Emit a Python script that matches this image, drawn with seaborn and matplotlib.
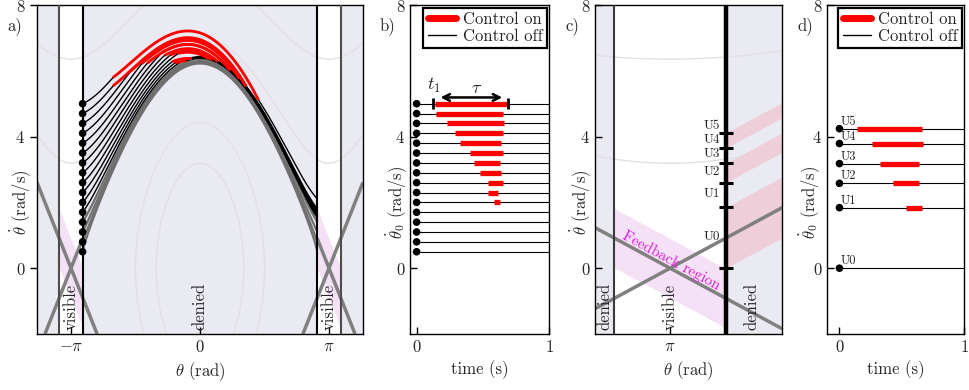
import numpy as np
import pandas as pd
import matplotlib
matplotlib.use("Agg")
import matplotlib.pyplot as plt
from matplotlib.lines import Line2D
import seaborn as sns

# ---------------- values ----------------
# panels a/b: initial angular velocities (rad/s), start angle -2.86 rad
init_speed = [5.0, 4.7, 4.4, 4.1, 3.8, 3.5, 3.2, 2.9, 2.6, 2.3, 2.0, 1.7, 1.4, 1.1, 0.8, 0.5]
# control-on windows (s) for the first eleven rows of panel b
b_on = [0.138, 0.146, 0.231, 0.290, 0.327, 0.403, 0.433, 0.479, 0.537, 0.541, 0.584]
b_off = [0.680, 0.650, 0.660, 0.650, 0.635, 0.650, 0.630, 0.635, 0.650, 0.617, 0.630]
gray_rows = [12, 13, 14, 15]

# panel d
u_names = ["U0", "U1", "U2", "U3", "U4", "U5"]
u_speed = [0.0, 1.84, 2.58, 3.18, 3.79, 4.24]
d_on = [np.nan, 0.536, 0.430, 0.324, 0.258, 0.139]
d_off = [np.nan, 0.661, 0.642, 0.642, 0.669, 0.661]

# panel c
c_bounds = [0.0, 1.85, 2.60, 3.19, 3.65, 4.11]
c_label_y = [0.94, 2.26, 2.92, 3.46, 3.90, 4.33]

# geometry / model constants
vis_half = 0.29          # visible window = pi +- 0.29 rad
start_theta = -2.86
energy_levels = [-4.75, 0.0, 14.9, 30.0]
x_slope = 3.15
band_half = 0.9
g = 9.81
brake = 2.9
a_xlim = (-3.97, 3.97)
c_xlim = (2.75, 3.725)

DENIED = "#EAEAF2"
PINK = "#f5e1f5"
REDBAND = "#eecfd9"
GRAYLINE = "#808080"

sns.set_theme(style="ticks")
plt.rcParams["font.family"] = ["cmr10", "DejaVu Serif"]
plt.rcParams["mathtext.fontset"] = "cm"
plt.rcParams["axes.unicode_minus"] = False
plt.rcParams["axes.formatter.use_mathtext"] = True
plt.rcParams["font.size"] = 12
plt.rcParams["axes.linewidth"] = 1.0
plt.rcParams["axes.edgecolor"] = "black"

fig = plt.figure(figsize=(9.69, 3.90), dpi=100)
W, H = 969.0, 390.0


def axes_px(left, right, top=5, bottom=334):
    return fig.add_axes([left / W, 1 - bottom / H, (right - left) / W, (bottom - top) / H])


axA = axes_px(37, 363)
axB = axes_px(410, 549)
axC = axes_px(595, 782)
axD = axes_px(827, 964)


def simulate(v0, t_on, t_off):
    dt = 2e-4
    th, v, t = start_theta, v0, 0.0
    rows = [(th, v, False)]
    while th < np.pi - vis_half and t < 3.0:
        on = (not np.isnan(t_on)) and (t_on <= t < t_off)
        acc = -g * np.sin(th) - (brake if on else 0.0)
        v += acc * dt
        th += v * dt
        t += dt
        rows.append((th, v, on))
    return pd.DataFrame(rows, columns=["theta", "speed", "on"])


def energy_contours(ax, xlim):
    th = np.linspace(xlim[0], xlim[1], 500)
    vv = np.linspace(-2, 8, 500)
    TH, VV = np.meshgrid(th, vv)
    E = 0.5 * VV ** 2 - g * np.cos(TH)
    ax.contour(TH, VV, E, levels=energy_levels, colors="#e1e1e1", linewidths=1.0,
               negative_linestyles="solid", zorder=1)


def style_axes(ax):
    ax.set_ylim(-2, 8)
    ax.set_yticks([0, 4, 8])
    for s in ax.spines.values():
        s.set_visible(True)
        s.set_color("black")
        s.set_linewidth(1.0)
    ax.tick_params(labelsize=12, length=5, width=1, color="black", direction="in")


# ---------------- panel a ----------------
ax = axA
ax.set_facecolor(DENIED)
ax.set_xlim(*a_xlim)
style_axes(ax)
ax.tick_params(axis="y", direction="out")
for c in (-np.pi, np.pi):
    ax.axvspan(c - vis_half, c + vis_half, color="white", zorder=0.5, lw=0)
energy_contours(ax, a_xlim)
# feedback bands inside the visible windows
for c in (-np.pi, np.pi):
    xs = np.array([c - vis_half, c + vis_half])
    mid = -x_slope * (xs - c)
    ax.fill_between(xs, mid - band_half, mid + band_half, color=PINK, lw=0, zorder=1.2)
# gray crossing lines
segs = [(-np.pi, -x_slope, a_xlim[0], -np.pi + 2 / x_slope),
        (-np.pi, x_slope, -np.pi - 2 / x_slope, -np.pi + vis_half),
        (np.pi, x_slope, np.pi - 2 / x_slope, a_xlim[1]),
        (np.pi, -x_slope, np.pi - vis_half, np.pi + 2 / x_slope)]
for c, s, x0, x1 in segs:
    xs = np.array([x0, x1])
    ax.plot(xs, s * (xs - c), color=GRAYLINE, lw=2.5, zorder=2, solid_capstyle="butt")
for c in (-np.pi, np.pi):
    inner = c - np.sign(c) * vis_half
    outer = c + np.sign(c) * vis_half
    ax.axvline(outer, color="#4d4d4d", lw=1.5, zorder=4)
    ax.axvline(inner, color="black", lw=1.5, zorder=4)

trajs = []
for i, v0 in enumerate(init_speed):
    on = b_on[i] if i < len(b_on) else np.nan
    off = b_off[i] if i < len(b_off) else np.nan
    trajs.append(simulate(v0, on, off))
for i in reversed(range(len(trajs))):
    df = trajs[i]
    col = "#707070" if i in gray_rows else "black"
    lw = 1.6 if i in gray_rows else 1.0
    ax.plot(df["theta"], df["speed"], color=col, lw=lw, zorder=3)
for i, df in enumerate(trajs):
    red = df[df["on"]]
    if len(red):
        ax.plot(red["theta"], red["speed"], color="red", lw=2.0, zorder=3.5, solid_capstyle="butt")
sns.scatterplot(x=[start_theta] * len(init_speed), y=init_speed, color="black", s=30,
                edgecolor="none", zorder=5, ax=ax, legend=False)
ax.set_xticks([-np.pi, 0, np.pi])
ax.set_xticklabels([r"$-\pi$", r"$0$", r"$\pi$"])
ax.set_yticklabels([r"$0$", r"$4$", r"$8$"])
ax.set_xlabel(r"$\theta$ (rad)", fontsize=12)
ax.set_ylabel(r"$\dot{\theta}$ (rad/s)", fontsize=12)
ax.yaxis.set_label_coords(-0.012, 0.40)
for xpos, lab in [(-np.pi, "visible"), (0.0, "denied"), (np.pi, "visible")]:
    ax.text(xpos, -1.88, lab, rotation=90, ha="center", va="bottom", fontsize=12, zorder=6)

# ---------------- panel b ----------------
ax = axB
ax.set_facecolor("white")
ax.set_xlim(-0.05, 1.0)
style_axes(ax)
ax.hlines(init_speed, 0, 1.0, color="black", lw=0.8, zorder=2)
for i in range(len(b_on)):
    ax.hlines(init_speed[i], b_on[i], b_off[i], color="red", lw=3.8, zorder=3)
sns.scatterplot(x=[0.0] * len(init_speed), y=init_speed, color="black", s=30,
                edgecolor="none", zorder=5, ax=ax, legend=False)
ax.vlines([0.126, 0.69], init_speed[0] - 0.15, init_speed[0] + 0.18, color="black", lw=2, zorder=4)
ax.annotate("", xy=(0.18, 5.19), xytext=(0.647, 5.19),
            arrowprops=dict(arrowstyle="<->", color="black", lw=1.8, shrinkA=0, shrinkB=0))
ax.text(0.13, 5.54, r"$t_1$", ha="center", va="center", fontsize=13)
ax.text(0.453, 5.47, r"$\tau$", ha="center", va="center", fontsize=13)
ax.set_xticks([0, 1])
ax.set_xticklabels([r"$0$", r"$1$"])
ax.set_yticklabels([r"$0$", r"$4$", r"$8$"])
ax.set_xlabel("time (s)", fontsize=12)
ax.set_ylabel(r"$\dot{\theta}_0$ (rad/s)", fontsize=12)
ax.yaxis.set_label_coords(-0.01, 0.40)

handles = [Line2D([], [], color="red", lw=5), Line2D([], [], color="black", lw=1)]


def add_legend(ax):
    leg = ax.legend(handles, ["Control on", "Control off"], loc="upper right", fontsize=12,
                    frameon=True, fancybox=False, framealpha=1, edgecolor="black",
                    handlelength=1.7, handletextpad=0.4, borderpad=0.25, labelspacing=0.1,
                    borderaxespad=0.15)
    leg.get_frame().set_linewidth(1.6)


add_legend(ax)

# ---------------- panel c ----------------
ax = axC
ax.set_facecolor(DENIED)
ax.set_xlim(*c_xlim)
style_axes(ax)
ax.axvspan(np.pi - vis_half, np.pi + vis_half, color="white", zorder=0.5, lw=0)
energy_contours(ax, c_xlim)
xs = np.array([np.pi - vis_half, np.pi + vis_half])
mid = -x_slope * (xs - np.pi)
ax.fill_between(xs, mid - band_half, mid + band_half, color=PINK, lw=0, zorder=1.2)
x0 = np.pi + vis_half
xs = np.array([x0, c_xlim[1]])
for lo, hi in [(c_bounds[0], c_bounds[1]), (c_bounds[2], c_bounds[3]), (c_bounds[4], c_bounds[5])]:
    ax.fill_between(xs, lo + x_slope * (xs - x0), hi + x_slope * (xs - x0), color=REDBAND, lw=0, zorder=1.2)
for s in (x_slope, -x_slope):
    ax.axline((np.pi, 0), slope=s, color=GRAYLINE, lw=2.5, zorder=2)
ax.axvline(np.pi - vis_half, color="#3a3a3a", lw=1.5, zorder=4)
ax.axvline(np.pi + vis_half, color="black", lw=3.2, zorder=4)
ax.hlines(c_bounds, x0 - 0.037, x0 + 0.037, color="black", lw=2.2, zorder=5)
for name, yy in zip(u_names, c_label_y):
    ax.text(x0 - 0.03, yy, name, ha="right", va="center", fontsize=9.5, zorder=6)
ax.text(np.pi + 0.005, 0.22, "Feedback region", color="#d81ed8", rotation=-28.4,
        rotation_mode="anchor", ha="center", va="center", fontsize=11, zorder=6)
for xpos, lab in [(2.80, "denied"), (np.pi, "visible"), (3.57, "denied")]:
    ax.text(xpos, -1.88, lab, rotation=90, ha="center", va="bottom", fontsize=12, zorder=6)
ax.set_xticks([np.pi])
ax.set_xticklabels([r"$\pi$"])
ax.set_yticklabels([r"$0$", r"$4$", r"$8$"])
ax.set_xlabel(r"$\theta$ (rad)", fontsize=12)
ax.set_ylabel(r"$\dot{\theta}$ (rad/s)", fontsize=12)
ax.yaxis.set_label_coords(-0.01, 0.40)

# ---------------- panel d ----------------
ax = axD
ax.set_facecolor("white")
ax.set_xlim(-0.1, 1.0)
style_axes(ax)
ax.hlines(u_speed, 0, 1.0, color="black", lw=0.8, zorder=2)
for yy, on, off in zip(u_speed, d_on, d_off):
    if not np.isnan(on):
        ax.hlines(yy, on, off, color="red", lw=3.8, zorder=3)
sns.scatterplot(x=[0.0] * len(u_speed), y=u_speed, color="black", s=30,
                edgecolor="none", zorder=5, ax=ax, legend=False)
for name, yy in zip(u_names, u_speed):
    ax.text(0.01, yy + 0.03, name, ha="left", va="bottom", fontsize=9, zorder=6)
ax.set_xticks([0, 1])
ax.set_xticklabels([r"$0$", r"$1$"])
ax.set_yticklabels([r"$0$", r"$4$", r"$8$"])
ax.set_xlabel("time (s)", fontsize=12)
ax.set_ylabel(r"$\dot{\theta}_0$ (rad/s)", fontsize=12)
ax.yaxis.set_label_coords(-0.036, 0.40)
add_legend(ax)

for xpx, lab in [(7, "a)"), (380, "b)"), (566, "c)"), (798, "d)")]:
    fig.text(xpx / W, 1 - 26.5 / H, lab, ha="left", va="center", fontsize=12)

fig.savefig("out.png", dpi=100)
